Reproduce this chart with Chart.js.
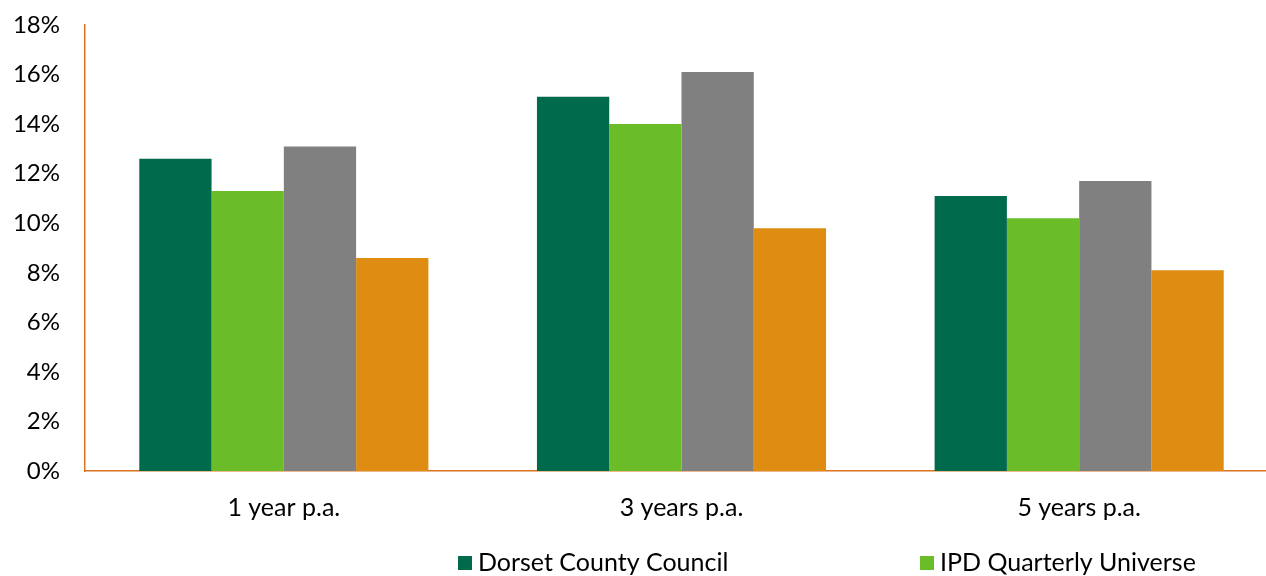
<!DOCTYPE html>
<html>
<head>
<meta charset="utf-8">
<script src="https://cdn.jsdelivr.net/npm/chart.js@4/dist/chart.umd.min.js"></script>
<style>
  html, body { margin: 0; padding: 0; overflow: hidden; background: #fff; }
  #wrap { position: absolute; left: 0; top: 0; width: 1278px; height: 576px; }
</style>
</head>
<body>
<div id="wrap"><canvas id="bars"></canvas></div>
<script>
const periods = ["1 year p.a.", "3 years p.a.", "5 years p.a."];
const seriesNames = ["Dorset County Council", "IPD Quarterly Universe", "Series 3", "Series 4"];
const dorset = [12.6, 15.1, 11.1];
const ipdUniverse = [11.3, 14.0, 10.2];
const series3 = [13.1, 16.1, 11.7];
const series4 = [8.6, 9.8, 8.1];
const yTicks = [0, 2, 4, 6, 8, 10, 12, 14, 16, 18];

const colours = ["#006A4D", "#6ABD29", "#808080", "#DE8C12"];
const axisColour = "#D9731F";
const fontFamily = "Lato, 'DejaVu Sans', sans-serif";

// legend only shows the first row (the rest falls off the bottom of the picture)
const bottomLegend = {
  id: "bottomLegend",
  afterDraw(chart) {
    const ctx = chart.ctx;
    const starts = [458, 920];
    const y = 563;
    ctx.save();
    ctx.font = "25px " + fontFamily;
    ctx.textBaseline = "middle";
    ctx.textAlign = "left";
    starts.forEach((x, i) => {
      const ds = chart.data.datasets[i];
      ctx.fillStyle = ds.backgroundColor;
      ctx.fillRect(x, y - 7, 14, 14);
      ctx.fillStyle = "#000";
      ctx.fillText(ds.label, x + 20, y);
    });
    ctx.restore();
  }
};

const values = [dorset, ipdUniverse, series3, series4];

new Chart(document.getElementById("bars"), {
  type: "bar",
  data: {
    labels: periods,
    datasets: values.map((v, i) => ({
      label: seriesNames[i],
      data: v,
      backgroundColor: colours[i],
      borderWidth: 0,
      categoryPercentage: 0.727,
      barPercentage: 1.0
    }))
  },
  options: {
    responsive: true,
    maintainAspectRatio: false,
    animation: false,
    layout: { padding: { top: 25, left: 0, right: 0, bottom: 0 } },
    plugins: {
      legend: { display: false },
      tooltip: { enabled: false }
    },
    scales: {
      x: {
        grid: { display: false, drawTicks: false },
        border: { color: axisColour, width: 1.5 },
        ticks: { color: "#000", padding: 22, font: { family: fontFamily, size: 25 } },
        afterFit(scale) { scale.height = 105; }
      },
      y: {
        min: 0,
        max: 18,
        grid: { display: false, drawTicks: false },
        border: { color: axisColour, width: 1.5 },
        afterBuildTicks(scale) { scale.ticks = yTicks.map(v => ({ value: v })); },
        ticks: {
          color: "#000",
          padding: 25,
          font: { family: fontFamily, size: 24 },
          callback: v => v + "%"
        },
        afterFit(scale) {
          scale.width = 85;
          scale.paddingTop = 0;
          scale.paddingBottom = 0;
        }
      }
    }
  },
  plugins: [bottomLegend]
});
</script>
</body>
</html>
